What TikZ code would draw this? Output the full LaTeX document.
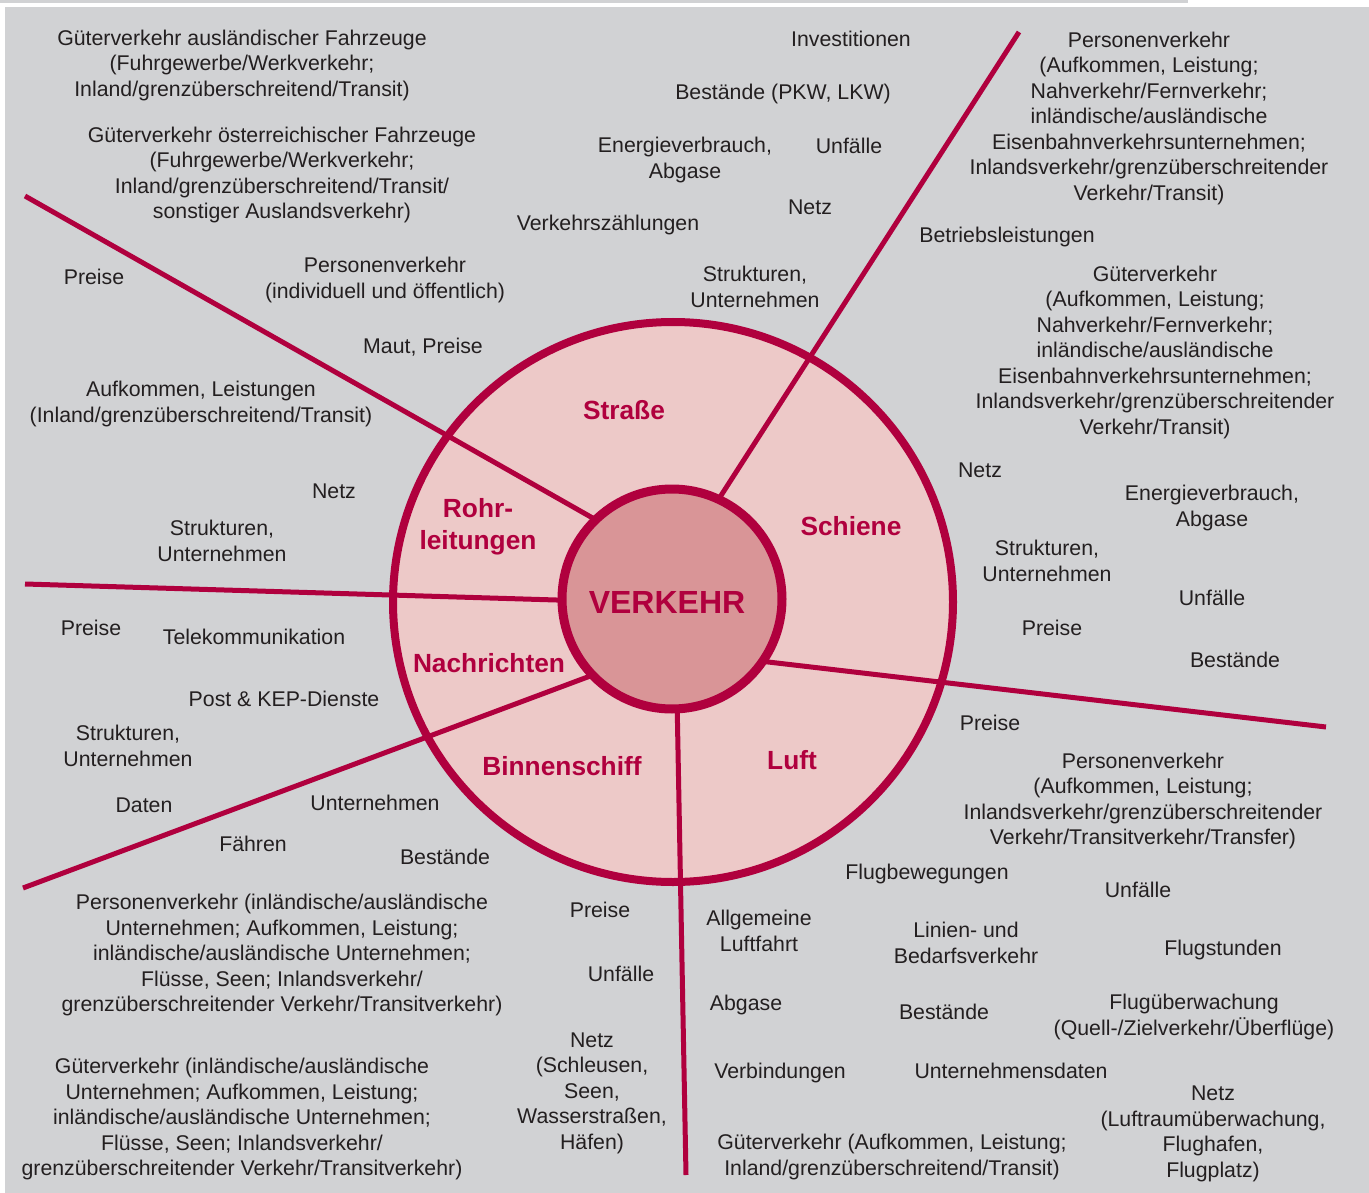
\documentclass[tikz,border=0pt]{standalone}
\usepackage{fontspec}
\setmainfont{Liberation Sans}
\definecolor{crim}{RGB}{176,0,62}
\definecolor{ringfill}{RGB}{237,201,200}
\definecolor{corefill}{RGB}{217,149,151}
\definecolor{bggrey}{RGB}{209,210,212}
\definecolor{txt}{RGB}{35,31,32}
\begin{document}
\begin{tikzpicture}[x=1pt,y=-1pt,
  lbl/.style={align=center, text=txt, font=\fontsize{21.3}{25.5}\selectfont, inner sep=0pt},
  sec/.style={align=center, text=crim, font=\fontsize{26.3}{32}\selectfont\bfseries, inner sep=0pt},
  spoke/.style={draw=crim, line width=5pt}]
% background
\fill[white] (0,0) rectangle (1369,1193);
\useasboundingbox (0,0) rectangle (1369,1193);
\fill[bggrey] (0,0) rectangle (1188,3.5);
\fill[bggrey] (5,7.5) rectangle (1369,1193);
% outer ring
\node[circle, draw=crim, line width=8pt, fill=ringfill, minimum size=560pt, inner sep=0pt] (outer) at (673,602) {};
% spokes
\coordinate (e1) at (25,196);   \coordinate (s1) at (605,525);
\coordinate (e2) at (1019,32);  \coordinate (s2) at (713,508);
\coordinate (e3) at (25,584);   \coordinate (s3) at (573,600.5);
\coordinate (e4) at (1326,727); \coordinate (s4) at (751,660);
\coordinate (e5) at (23,888);   \coordinate (s5) at (601,672);
\coordinate (e6) at (686,1175); \coordinate (s6) at (677,697);
\draw[spoke] (s1) -- (e1);
\draw[spoke] (s2) -- (e2);
\draw[spoke] (s3) -- (e3);
\draw[spoke] (s4) -- (e4);
\draw[spoke] (s5) -- (e5);
\draw[spoke] (s6) -- (e6);
% core
\node[circle, draw=crim, line width=9pt, fill=corefill, minimum size=220pt, inner sep=0pt] (core) at (672,599) {};
\node[text=crim, font=\fontsize{32}{38}\selectfont\bfseries, inner sep=0pt] (verkehr) at (667,602) {VERKEHR};
% sector labels
\node[sec] (strasse) at (624,410) {Straße};
\node[sec] (rohr) at (478,527) {Rohr-\\leitungen};
\node[sec] (schiene) at (851,526) {Schiene};
\node[sec] (nachr) at (489,663) {Nachrichten};
\node[sec] (binnen) at (562,766) {Binnenschiff};
\node[sec] (luft) at (792,760) {Luft};
% top-left
\node[lbl] (t1) at (242,65) {Güterverkehr ausländischer Fahrzeuge\\(Fuhrgewerbe/Werkverkehr;\\Inland/grenzüberschreitend/Transit)};
\node[lbl] (t2) at (282,175) {Güterverkehr österreichischer Fahrzeuge\\(Fuhrgewerbe/Werkverkehr;\\Inland/grenzüberschreitend/Transit/\\sonstiger Auslandsverkehr)};
\node[lbl] (t3) at (94,277) {Preise};
\node[lbl] (t4) at (385,280) {Personenverkehr\\(individuell und öffentlich)};
\node[lbl] (t5) at (423,347) {Maut, Preise};
\node[lbl] (t6) at (201,404) {Aufkommen, Leistungen\\(Inland/grenzüberschreitend/Transit)};
% top-middle
\node[lbl] (t7) at (851,39) {Investitionen};
\node[lbl] (t8) at (783,94) {Bestände (PKW, LKW)};
\node[lbl] (t9) at (685,160) {Energieverbrauch,\\Abgase};
\node[lbl] (t10) at (849,146) {Unfälle};
\node[lbl] (t11) at (810,207) {Netz};
\node[lbl] (t12) at (608,225) {Verkehrszählungen};
\node[lbl] (t13) at (755,287) {Strukturen,\\Unternehmen};
% top-right
\node[lbl] (t14) at (1149,118) {Personenverkehr\\(Aufkommen, Leistung;\\Nahverkehr/Fernverkehr;\\inländische/ausländische\\Eisenbahnverkehrsunternehmen;\\Inlandsverkehr/grenzüberschreitender\\Verkehr/Transit)};
\node[lbl] (t15) at (1007,237) {Betriebsleistungen};
\node[lbl] (t16) at (1155,352) {Güterverkehr\\(Aufkommen, Leistung;\\Nahverkehr/Fernverkehr;\\inländische/ausländische\\Eisenbahnverkehrsunternehmen;\\Inlandsverkehr/grenzüberschreitender\\Verkehr/Transit)};
% right
\node[lbl] (t17) at (980,470) {Netz};
\node[lbl] (t18) at (1212,508) {Energieverbrauch,\\Abgase};
\node[lbl] (t19) at (1047,561) {Strukturen,\\Unternehmen};
\node[lbl] (t20) at (1212,598) {Unfälle};
\node[lbl] (t21) at (1052,628) {Preise};
\node[lbl] (t22) at (1235,660) {Bestände};
% lower right
\node[lbl] (t23) at (990,723) {Preise};
\node[lbl] (t24) at (1143,801) {Personenverkehr\\(Aufkommen, Leistung;\\Inlandsverkehr/grenzüberschreitender\\Verkehr/Transitverkehr/Transfer)};
\node[lbl] (t25) at (927,874) {Flugbewegungen};
\node[lbl] (t26) at (1138,890) {Unfälle};
\node[lbl] (t27) at (759,931) {Allgemeine\\Luftfahrt};
\node[lbl] (t28) at (966,943) {Linien- und\\Bedarfsverkehr};
\node[lbl] (t29) at (1223,950) {Flugstunden};
\node[lbl] (t30) at (746,1005) {Abgase};
\node[lbl] (t31) at (944,1012) {Bestände};
\node[lbl] (t32) at (1194,1017) {Flugüberwachung\\(Quell-/Zielverkehr/Überflüge)};
\node[lbl] (t33) at (780,1073) {Verbindungen};
\node[lbl] (t34) at (1011,1071) {Unternehmensdaten};
\node[lbl] (t35) at (1213,1134) {Netz\\(Luftraumüberwachung,\\Flughafen,\\Flugplatz)};
\node[lbl] (t36) at (892,1157) {Güterverkehr (Aufkommen, Leistung;\\Inland/grenzüberschreitend/Transit)};
% bottom-left
\node[lbl] (t37) at (282,955) {Personenverkehr (inländische/ausländische\\Unternehmen; Aufkommen, Leistung;\\inländische/ausländische Unternehmen;\\Flüsse, Seen; Inlandsverkehr/\\grenzüberschreitender Verkehr/Transitverkehr)};
\node[lbl] (t38) at (242,1119) {Güterverkehr (inländische/ausländische\\Unternehmen; Aufkommen, Leistung;\\inländische/ausländische Unternehmen;\\Flüsse, Seen; Inlandsverkehr/\\grenzüberschreitender Verkehr/Transitverkehr)};
\node[lbl] (t39) at (600,910) {Preise};
\node[lbl] (t40) at (621,974) {Unfälle};
\node[lbl] (t41) at (592,1093) {Netz\\(Schleusen,\\Seen,\\Wasserstraßen,\\Häfen)};
% left
\node[lbl] (t42) at (334,491) {Netz};
\node[lbl] (t43) at (222,541) {Strukturen,\\Unternehmen};
\node[lbl] (t44) at (91,628) {Preise};
\node[lbl] (t45) at (254,637) {Telekommunikation};
\node[lbl] (t46) at (284,699) {Post \& KEP-Dienste};
\node[lbl] (t47) at (128,746) {Strukturen,\\Unternehmen};
\node[lbl] (t48) at (144,805) {Daten};
\node[lbl] (t49) at (375,803) {Unternehmen};
\node[lbl] (t50) at (253,844) {Fähren};
\node[lbl] (t51) at (445,857) {Bestände};
\end{tikzpicture}
\end{document}
